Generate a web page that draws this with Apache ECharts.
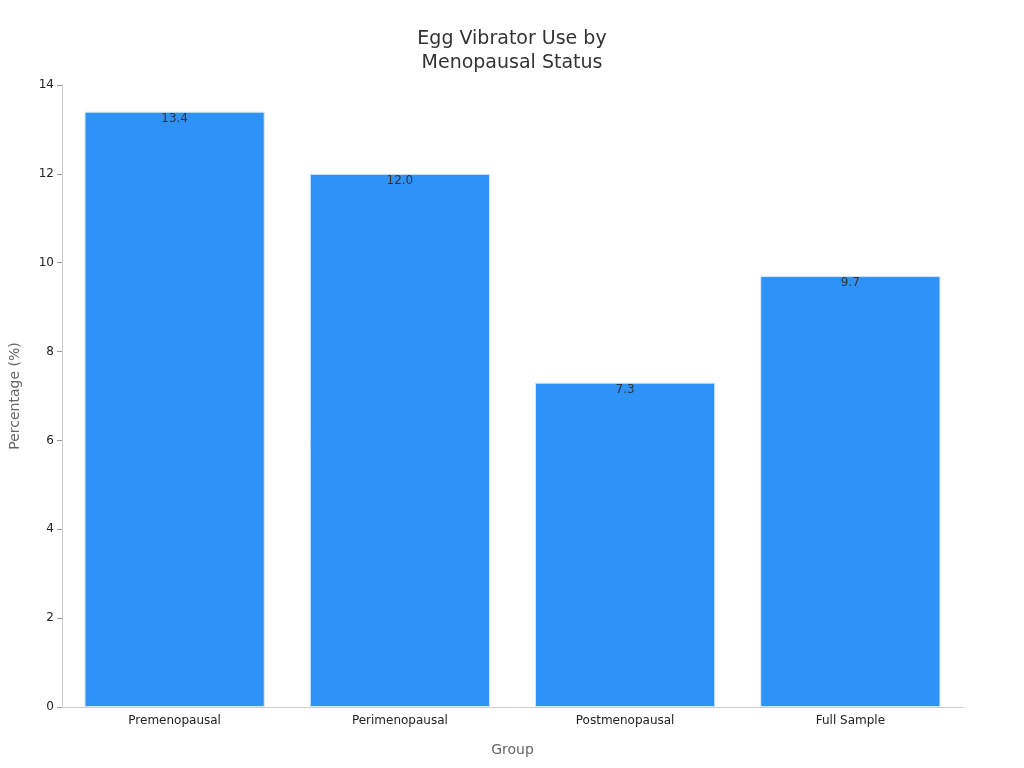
<!DOCTYPE html>
<html>
<head>
<meta charset="utf-8">
<script src="https://cdn.jsdelivr.net/npm/echarts@6/dist/echarts.min.js"></script>
<style>html,body{margin:0;padding:0;background:#fff}#chart{width:1024px;height:768px}</style>
</head>
<body>
<div id="chart"></div>
<script>
const groups = ['Premenopausal', 'Perimenopausal', 'Postmenopausal', 'Full Sample'];
const usePct = [13.4, 12.0, 7.3, 9.7];

const chart = echarts.init(document.getElementById('chart'));
chart.setOption({
  animation: false,
  textStyle: { fontFamily: 'DejaVu Sans' },
  title: {
    text: 'Egg Vibrator Use by\nMenopausal Status',
    left: 'center', top: 22,
    textStyle: { fontSize: 19, fontWeight: 'normal', color: '#333', lineHeight: 24 }
  },
  grid: { left: 60, right: 61, top: 85, bottom: 61 },
  xAxis: {
    type: 'category', data: groups,
    name: 'Group', nameLocation: 'middle', nameGap: 36,
    nameTextStyle: { fontSize: 14, color: '#666' },
    axisLine: { lineStyle: { color: '#ccc' } },
    axisTick: { alignWithLabel: true, lineStyle: { color: '#999' } },
    axisLabel: { color: '#222', fontSize: 12 }
  },
  yAxis: {
    type: 'value', min: 0, max: 14, interval: 2,
    name: 'Percentage (%)', nameLocation: 'middle', nameGap: 40,
    nameTextStyle: { fontSize: 14, color: '#666' },
    axisLine: { show: true, lineStyle: { color: '#ccc' } },
    axisTick: { show: true, lineStyle: { color: '#999' } },
    axisLabel: { color: '#222', fontSize: 12 },
    splitLine: { show: false }
  },
  series: [{
    type: 'bar', data: usePct, barCategoryGap: '20%',
    itemStyle: { color: '#2f92f8', borderColor: '#d6e6f6', borderWidth: 1 },
    label: {
      show: true, position: 'insideTop', offset: [0, -4],
      color: '#333', fontSize: 12,
      formatter: p => p.value.toFixed(1)
    }
  }]
});
</script>
</body>
</html>
